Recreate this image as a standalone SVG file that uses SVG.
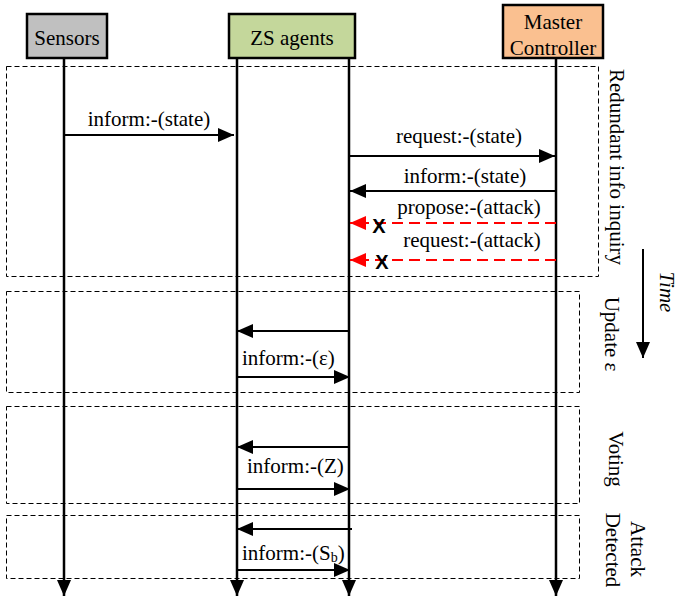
<svg xmlns="http://www.w3.org/2000/svg" width="679" height="596" viewBox="0 0 679 596" font-family="'Liberation Serif', 'DejaVu Serif', serif">
  <style>
    text { font-family: "Liberation Serif", "Times New Roman", serif; font-size: 21px; fill: #000; }
    .head { stroke: #000; stroke-width: 2.5; }
    .life { stroke: #000; stroke-width: 2.5; fill: none; }
    .msg { stroke: #000; stroke-width: 2; fill: none; }
    .bad { stroke: #ff0000; stroke-width: 2; stroke-dasharray: 11,6; fill: none; }
    .phase { stroke: #000; stroke-width: 1; stroke-dasharray: 5,3; fill: none; }
    .mid { text-anchor: middle; }
    .cross { font-family: "Liberation Sans", Arial, sans-serif; font-weight: bold; font-size: 20px; text-anchor: middle; }
  </style>
  <defs>
    <marker id="ah" viewBox="0 0 16 14" refX="16" refY="7" markerWidth="16" markerHeight="14" markerUnits="userSpaceOnUse" orient="auto">
      <path d="M0,0 L16,7 L0,14 Z" fill="#000"/>
    </marker>
    <marker id="ahRed" viewBox="0 0 16 14" refX="16" refY="7" markerWidth="16" markerHeight="14" markerUnits="userSpaceOnUse" orient="auto">
      <path d="M0,0 L16,7 L0,14 Z" fill="#ff0000"/>
    </marker>
  </defs>

  <!-- phase frames -->
  <g id="phases">
    <rect class="phase" x="6.5" y="66.5" width="592" height="210"/>
    <rect class="phase" x="6.5" y="291.5" width="573" height="101"/>
    <rect class="phase" x="6.5" y="406.5" width="573" height="97"/>
    <rect class="phase" x="6.5" y="515.5" width="573" height="63"/>
  </g>

  <!-- participants -->
  <g id="sensors">
    <rect class="head" x="27" y="14" width="80" height="44" fill="#c0c0c0"/>
    <text class="mid" x="67" y="45">Sensors</text>
  </g>
  <g id="zs-agents">
    <rect class="head" x="229" y="14" width="126" height="44" fill="#c4d79b"/>
    <text class="mid" x="292" y="45">ZS agents</text>
  </g>
  <g id="master-controller">
    <rect class="head" x="503" y="5" width="100" height="53" fill="#fac090"/>
    <text class="mid" x="553" y="29">Master</text>
    <text class="mid" x="553" y="55">Controller</text>
  </g>

  <!-- lifelines -->
  <g id="lifelines">
    <line class="life" x1="64" y1="58" x2="64" y2="596" marker-end="url(#ah)"/>
    <line class="life" x1="237" y1="58" x2="237" y2="596" marker-end="url(#ah)"/>
    <line class="life" x1="349" y1="58" x2="349" y2="596" marker-end="url(#ah)"/>
    <line class="life" x1="556" y1="58" x2="556" y2="596" marker-end="url(#ah)"/>
  </g>

  <!-- messages -->
  <g id="connectors">
    <line class="msg" x1="64" y1="135" x2="234" y2="135" marker-end="url(#ah)"/>
    <line class="msg" x1="349" y1="156" x2="555" y2="156" marker-end="url(#ah)"/>
    <line class="msg" x1="557" y1="191" x2="350" y2="191" marker-end="url(#ah)"/>
    <line class="bad" x1="556" y1="223" x2="350" y2="223" marker-end="url(#ahRed)"/>
    <line class="bad" x1="556" y1="260" x2="350" y2="260" marker-end="url(#ahRed)"/>

    <line class="msg" x1="349" y1="331" x2="237" y2="331" marker-end="url(#ah)"/>
    <line class="msg" x1="237" y1="377" x2="350" y2="377" marker-end="url(#ah)"/>

    <line class="msg" x1="349" y1="447" x2="237" y2="447" marker-end="url(#ah)"/>
    <line class="msg" x1="237" y1="489" x2="350" y2="489" marker-end="url(#ah)"/>

    <line class="msg" x1="352" y1="529" x2="237" y2="529" marker-end="url(#ah)"/>
    <line class="msg" x1="237" y1="570" x2="350" y2="570" marker-end="url(#ah)"/>
  </g>

  <!-- message labels -->
  <g id="labels">
    <text class="mid" x="149" y="126">inform:-(state)</text>
    <text class="mid" x="459" y="143">request:-(state)</text>
    <text class="mid" x="465" y="183">inform:-(state)</text>
    <text class="mid" x="469" y="214">propose:-(attack)</text>
    <text class="mid" x="472" y="247">request:-(attack)</text>
    <text class="cross" x="379" y="233">X</text>
    <text class="cross" x="382" y="269">X</text>
    <text x="242" y="365">inform:-(ε)</text>
    <text x="247" y="473">inform:-(Z)</text>
    <text x="242" y="560">inform:-(S<tspan font-size="14" dy="2">b</tspan><tspan dy="-2">)</tspan></text>
  </g>

  <!-- phase titles -->
  <g id="phase-titles">
    <text class="mid" transform="translate(610,167) rotate(90)">Redundant info inquiry</text>
    <text class="mid" transform="translate(605,334) rotate(90)">Update ε</text>
    <text class="mid" transform="translate(609,459) rotate(90)">Voting</text>
    <text class="mid" transform="translate(631,549) rotate(90)">Attack</text>
    <text class="mid" transform="translate(606,550) rotate(90)">Detected</text>
  </g>

  <!-- time axis -->
  <g id="time-axis">
    <line class="msg" x1="643" y1="249" x2="643" y2="358" marker-end="url(#ah)"/>
    <text class="mid" font-style="italic" transform="translate(660,292) rotate(90)">Time</text>
  </g>
</svg>
